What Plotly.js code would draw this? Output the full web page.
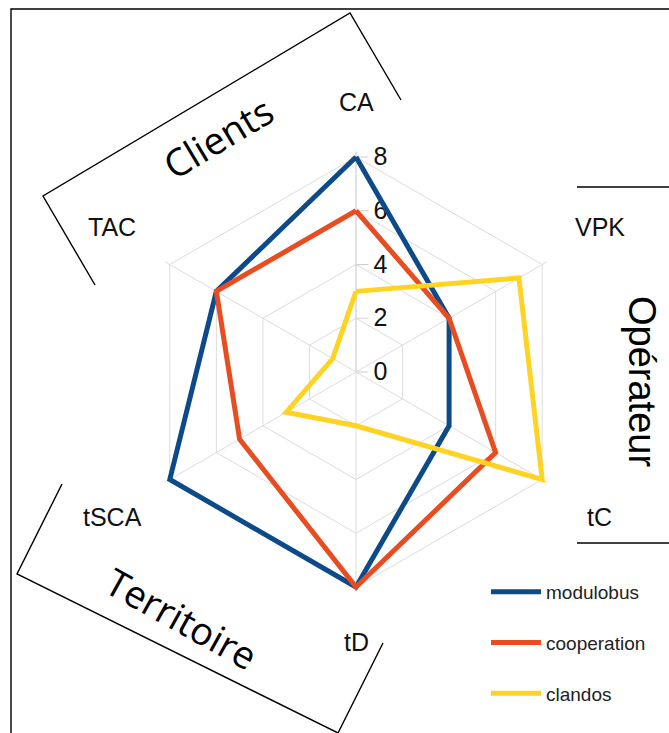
<!DOCTYPE html>
<html>
<head>
<meta charset="utf-8">
<script src="https://cdn.plot.ly/plotly-3.0.1.min.js"></script>
<style>html,body{margin:0;padding:0;background:#fff;}#chart{width:669px;height:733px;}</style>
</head>
<body>
<div id="chart"></div>
<script>
// ---- data ----
const categories = ['CA', 'VPK', 'tC', 'tD', 'tSCA', 'TAC'];
const modulobus = [8, 4, 4, 8, 8, 6];
const cooperation = [6, 4, 6, 8, 5, 6];
const clandos = [3, 7, 8, 2, 3, 1];
const seriesNames = ['modulobus', 'cooperation', 'clandos'];
const radialTicks = [0, 2, 4, 6, 8];
const groupLabels = ['Clients', 'Opérateur', 'Territoire'];

// ---- layout geometry ----
const W = 669, H = 733;
const CX = 356, CY = 372, R8 = 215;      // pixel radius of value 8
const RMAX = 8.2;                          // small headroom so outer lines are not clipped
const R = R8 * RMAX / 8;
const px = x => x / W;
const py = y => 1 - y / H;

const colors = ['#0d4a8a', '#e84d22', '#ffd324'];
const series = [modulobus, cooperation, clandos];

const traces = series.map((vals, i) => ({
  type: 'scatterpolar',
  r: vals.concat([vals[0]]),
  theta: categories.concat([categories[0]]),
  mode: 'lines',
  name: seriesNames[i],
  legendgroup: 'g' + i,
  cliponaxis: false,
  line: {color: colors[i], width: 5},
  hoverinfo: 'skip'
}));

// axis labels placed around the polar area
const sgn = v => Math.sign(Math.round(v * 1000));
const axisAnnots = categories.map((c, i) => {
  const a = (90 - 60 * i) * Math.PI / 180;
  const cs = Math.cos(a), sn = Math.sin(a);
  return {
    xref: 'paper', yref: 'paper',
    x: px(CX + 250 * cs + 27 * sgn(cs)),
    y: py(CY - 250 * sn - 20 * sgn(sn)),
    text: c, showarrow: false, xanchor: 'center', yanchor: 'middle',
    font: {family: 'Liberation Sans, Arial, sans-serif', size: 25, color: '#111'}
  };
});

const groupAnnots = [
  {x: px(218), y: py(137), text: groupLabels[0], textangle: -31,
   font: {family: 'Open Sans, sans-serif', size: 38, color: '#000'}},
  {x: px(642), y: py(381), text: groupLabels[1], textangle: 90,
   font: {family: 'Liberation Sans, Arial, sans-serif', size: 38, color: '#000'}},
  {x: px(182), y: py(618), text: groupLabels[2], textangle: 29,
   font: {family: 'Open Sans, sans-serif', size: 38, color: '#000'}}
].map(a => Object.assign({xref: 'paper', yref: 'paper', showarrow: false,
  xanchor: 'center', yanchor: 'middle'}, a));

function pathOf(pts) {
  return pts.map((p, i) => (i ? 'L' : 'M') + px(p[0]) + ',' + py(p[1])).join(' ');
}
const lineStyle = {color: '#000', width: 1.4};
const shapes = [
  {type: 'path', path: pathOf([[95, 285], [43, 196], [350, 13], [401, 100]])},
  {type: 'path', path: pathOf([[62, 484], [17, 574], [338, 733], [383, 643]])},
  {type: 'path', path: pathOf([[577, 187], [669, 187]])},
  {type: 'path', path: pathOf([[577, 543], [669, 543]])},
  {type: 'path', path: pathOf([[11, 733], [11, 9], [669, 9]])}
].map(s => Object.assign({xref: 'paper', yref: 'paper', line: lineStyle}, s));

const layout = {
  width: W, height: H,
  margin: {l: 0, r: 0, t: 0, b: 0},
  paper_bgcolor: '#fff',
  showlegend: true,
  legend: {
    x: px(486), y: py(573), xanchor: 'left', yanchor: 'top',
    font: {family: 'Liberation Sans, Arial, sans-serif', size: 19, color: '#222'},
    tracegroupgap: 23, itemwidth: 50, bgcolor: 'rgba(0,0,0,0)'
  },
  polar: {
    domain: {x: [px(CX - R), px(CX + R)], y: [py(CY + R), py(CY - R)]},
    bgcolor: 'rgba(0,0,0,0)',
    gridshape: 'linear',
    radialaxis: {
      range: [0, RMAX], tickvals: radialTicks, angle: 90, tickangle: 90,
      showline: true, linecolor: '#d6d6d6', linewidth: 1,
      gridcolor: '#dcdcdc', gridwidth: 1, layer: 'below traces',
      ticks: 'outside', ticklen: 12, tickcolor: '#cfcfcf',
      tickfont: {family: 'Liberation Sans, Arial, sans-serif', size: 25, color: '#111'}
    },
    angularaxis: {
      type: 'category', categoryarray: categories,
      rotation: 90, direction: 'clockwise', layer: 'below traces',
      showline: false,
      gridcolor: '#dcdcdc', showticklabels: false, ticks: ''
    }
  },
  annotations: axisAnnots.concat(groupAnnots),
  shapes: shapes
};

Plotly.newPlot('chart', traces, layout, {displayModeBar: false, staticPlot: true});
</script>
</body>
</html>
